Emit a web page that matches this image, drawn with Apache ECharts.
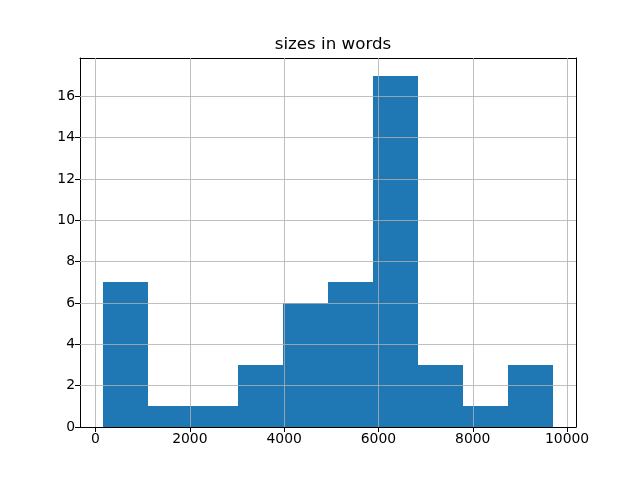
<!DOCTYPE html>
<html><head><meta charset="utf-8">
<script src="https://cdn.jsdelivr.net/npm/echarts@6/dist/echarts.min.js"></script>
<style>html,body{margin:0;padding:0;background:#fff}#c{width:640px;height:480px}</style>
</head><body><div id="c"></div>
<script>
const binEdges = [149, 1105, 2061, 3017, 3974, 4930, 5886, 6842, 7798, 8755, 9711];
const counts = [7, 1, 1, 3, 6, 7, 17, 3, 1, 3];
const xTicks = [0, 2000, 4000, 6000, 8000, 10000];
const yTicks = [0, 2, 4, 6, 8, 10, 12, 14, 16];
const titleText = 'sizes in words';

const lo = binEdges[0], hi = binEdges[binEdges.length - 1];
const pad = (hi - lo) * 0.05;
const yMax = Math.max(...counts) * 1.05;
const font = 'DejaVu Sans';

const chart = echarts.init(document.getElementById('c'), null, {renderer: 'canvas'});
const gridLineStyle = {color: '#b0b0b0', width: 0.8, type: 'solid'};
chart.setOption({
  animation: false,
  backgroundColor: '#fff',
  title: {text: titleText, left: 328, top: 31, textAlign: 'center',
    textStyle: {fontFamily: font, fontSize: 16.7, fontWeight: 'normal', color: '#000'}},
  grid: {left: 80, right: 64, top: 58, bottom: 53, containLabel: false},
  xAxis: [{
    type: 'value', min: lo - pad, max: hi + pad, position: 'bottom',
    axisLine: {show: true, onZero: false, lineStyle: {color: '#000', width: 1}},
    axisTick: {show: true, length: 5, lineStyle: {color: '#000', width: 1}, customValues: xTicks},
    axisLabel: {show: true, margin: 5, customValues: xTicks, formatter: v => String(Math.round(v)),
      fontFamily: font, fontSize: 13.9, color: '#000'},
    splitLine: {show: false}
  }, {
    type: 'value', min: lo - pad, max: hi + pad, position: 'top',
    axisLine: {show: true, onZero: false, lineStyle: {color: '#000', width: 1}},
    axisTick: {show: false}, axisLabel: {show: false}, splitLine: {show: false}
  }],
  yAxis: [{
    type: 'value', min: 0, max: yMax, position: 'left',
    axisLine: {show: true, onZero: false, lineStyle: {color: '#000', width: 1}},
    axisTick: {show: true, length: 5, lineStyle: {color: '#000', width: 1}, customValues: yTicks},
    axisLabel: {show: true, margin: 5, customValues: yTicks, formatter: v => String(Math.round(v)),
      fontFamily: font, fontSize: 13.9, color: '#000'},
    splitLine: {show: false}
  }, {
    type: 'value', min: 0, max: yMax, position: 'right',
    axisLine: {show: true, onZero: false, lineStyle: {color: '#000', width: 1}},
    axisTick: {show: false}, axisLabel: {show: false}, splitLine: {show: false}
  }],
  series: [{
    type: 'custom',
    z: 2,
    data: counts.map((c, i) => [binEdges[i], binEdges[i + 1], c]),
    encode: {x: [0, 1], y: 2},
    renderItem: function (params, api) {
      const p0 = api.coord([api.value(0), api.value(2)]);
      const p1 = api.coord([api.value(1), 0]);
      const x0 = Math.round(p0[0]), x1 = Math.round(p1[0]);
      const y0 = Math.round(p0[1]), y1 = p1[1];
      return {type: 'rect', shape: {x: x0, y: y0, width: x1 - x0, height: y1 - y0},
        style: {fill: '#1f77b4', stroke: null}};
    }
  }, {
    type: 'line', z: 5, data: [], silent: true,
    markLine: {
      silent: true, symbol: ['none', 'none'], label: {show: false},
      lineStyle: gridLineStyle, animation: false,
      data: xTicks.map(v => ({xAxis: v})).concat(yTicks.filter(v => v > 0).map(v => ({yAxis: v})))
    }
  }]
});
</script></body></html>
